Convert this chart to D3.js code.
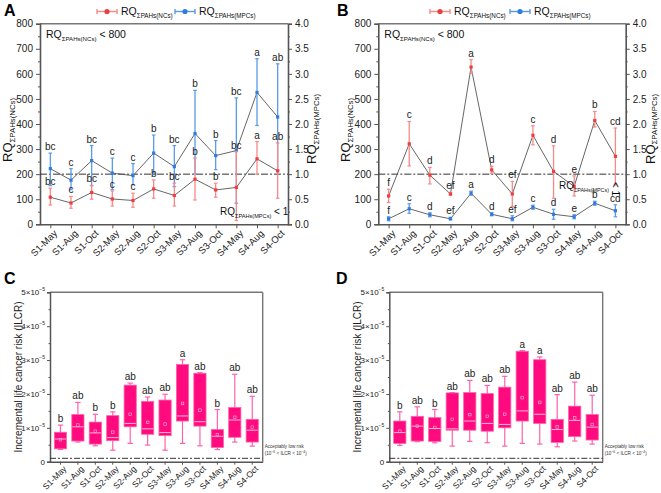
<!DOCTYPE html>
<html><head><meta charset="utf-8">
<script src="https://cdn.jsdelivr.net/npm/d3@7"></script>
<style>body{margin:0;background:#fff}svg{display:block;font-family:Arial,"Liberation Sans",sans-serif}</style>
</head><body><svg id="c" width="661" height="493"></svg>
<script>
const categories = ["S1-May","S1-Aug","S1-Oct","S2-May","S2-Aug","S2-Oct","S3-May","S3-Aug","S3-Oct","S4-May","S4-Aug","S4-Oct"];
const leftTicks = [0,100,200,300,400,500,600,700,800];
const rightTicks = [0,0.5,1,1.5,2,2.5,3,3.5,4];
const ilcrTicks = [0,1,2,3,4,5];

// Panel A
const ncsA_mean = [108,85,127,101,95,141,115,180,137,147,261,213];
const ncsA_low  = [77,64,100,73,68,104,73,97,108,15,200,104];
const ncsA_high = [144,111,155,133,124,177,164,264,164,290,330,324];
const ncsA_labels = ["bc","c","bc","c","c","b","bc","b","b","bc","a","ab"];
const mpcsA_mean = [1.11,0.88,1.27,1.02,0.97,1.42,1.15,1.81,1.37,1.47,2.63,2.14];
const mpcsA_low  = [0.77,0.69,0.77,0.69,0.79,1.02,0.75,1.0,1.09,0.42,1.97,1.08];
const mpcsA_high = [1.42,1.11,1.57,1.32,1.21,1.78,1.57,2.67,1.67,2.52,3.3,3.2];
const mpcsA_labels = ["bc","c","bc","c","c","b","bc","b","b","bc","a","ab"];

// Panel B
const ncsB_mean = [113,321,196,121,627,217,121,355,211,151,414,271];
const ncsB_low  = [87,233,161,116,601,204,71,317,104,113,388,157];
const ncsB_high = [140,410,227,127,657,231,171,393,313,193,450,384];
const ncsB_labels = ["f","c","d","ef","a","d","ef","c","d","e","b","cd"];
const mpcsB_mean = [0.11,0.31,0.19,0.11,0.62,0.2,0.11,0.34,0.2,0.15,0.42,0.27];
const mpcsB_low  = [0.07,0.22,0.15,0.09,0.58,0.17,0.07,0.3,0.1,0.11,0.38,0.15];
const mpcsB_high = [0.15,0.41,0.23,0.14,0.66,0.23,0.17,0.38,0.3,0.19,0.46,0.39];
const mpcsB_labels = ["f","c","d","ef","a","d","ef","c","d","e","b","cd"];

// Panel C (ILCR, units of 1e-5)
const C_whiskerLow  = [0.36,0.58,0.47,0.34,0.54,0.49,0.34,0.54,0.47,0.36,0.58,0.46];
const C_q1          = [0.38,0.61,0.52,0.62,1.03,0.81,0.77,1.2,1.05,0.42,0.72,0.58];
const C_median      = [0.67,1.03,0.85,0.71,1.13,0.97,0.86,1.35,1.18,0.75,1.23,0.93];
const C_q3          = [0.87,1.39,1.17,1.36,2.26,1.78,1.82,2.87,2.61,0.95,1.6,1.25];
const C_whiskerHigh = [1.08,1.75,1.4,1.47,2.32,1.91,1.99,3.01,2.63,1.54,2.58,1.93];
const C_mean        = [0.65,1.08,0.9,0.87,1.4,1.16,1.11,1.72,1.52,0.8,1.31,1.02];
const C_labels = ["b","ab","b","b","ab","ab","ab","a","ab","b","ab","ab"];

// Panel D
const D_whiskerLow  = [0.48,0.59,0.56,0.46,0.6,0.56,0.46,0.54,0.52,0.44,0.61,0.52];
const D_q1          = [0.54,0.61,0.6,0.93,0.93,0.9,1.0,1.2,1.13,0.57,0.74,0.64];
const D_median      = [0.86,1.05,0.98,0.97,1.2,1.13,1.1,1.5,1.4,0.95,1.22,1.02];
const D_q3          = [1.2,1.34,1.3,2.03,2.04,2.01,2.2,3.26,3.01,1.25,1.64,1.39];
const D_whiskerHigh = [1.47,1.62,1.54,2.04,2.4,2.25,2.52,3.28,3.09,1.98,2.35,1.96];
const D_mean        = [0.9,1.05,1.01,1.25,1.39,1.34,1.4,1.89,1.75,1.03,1.29,1.1];
const D_labels = ["b","ab","b","ab","ab","ab","ab","a","a","ab","ab","ab"];

const RED = "#f03c3c", RED_ERR = "#f58a8a", BLUE = "#2f7be0", BLUE_ERR = "#5a9be8";
const AX = "#555", LINE = "#555";
const PINK = "#ff0a7f", PINK_W = "#ff62ab", PINK_M = "#ffb6d6";

const svg = d3.select("#c");

function rq(g, x, y, sub, size, rot, subScale = 0.6, dyScale = 0.28) {
  const t = g.append("text").attr("x", x).attr("y", y).attr("font-size", size).attr("fill", "#111");
  if (rot) t.attr("transform", `rotate(${rot},${x},${y})`);
  t.append("tspan").text("RQ");
  t.append("tspan").attr("font-size", size * subScale).attr("dy", size * dyScale).text(sub);
  return t;
}

function panelRQ(opt) {
  const g = svg.append("g");
  const x = d3.scalePoint().domain(categories).range([opt.x0, opt.x1]).padding(0.5);
  const yL = d3.scaleLinear().domain([0, 800]).range([opt.y1, opt.y0]);
  const yR = d3.scaleLinear().domain([0, 4]).range([opt.y1, opt.y0]);

  g.append("line").attr("x1", opt.x0).attr("x2", opt.x1).attr("y1", opt.y0).attr("y2", opt.y0).attr("stroke", "#777").attr("stroke-width", 1.6);
  const la = g.append("g").attr("transform", `translate(${opt.x0},0)`)
    .call(d3.axisLeft(yL).tickValues(leftTicks).tickSize(4).tickPadding(3));
  g.append("g").attr("transform", `translate(${opt.x0},0)`)
    .call(d3.axisLeft(yL).tickValues(d3.range(50, 800, 100)).tickSize(2).tickFormat("")).select(".domain").remove();
  const ra = g.append("g").attr("transform", `translate(${opt.x1},0)`)
    .call(d3.axisRight(yR).tickValues(rightTicks).tickSize(4).tickPadding(3).tickFormat(d3.format(".1f")));
  g.append("g").attr("transform", `translate(${opt.x1},0)`)
    .call(d3.axisRight(yR).tickValues(d3.range(0.25, 4, 0.5)).tickSize(2).tickFormat("")).select(".domain").remove();
  const ba = g.append("g").attr("transform", `translate(0,${opt.y1})`)
    .call(d3.axisBottom(x).tickSize(4).tickPadding(3).tickSizeOuter(0));
  ba.selectAll("text").attr("text-anchor", "end").attr("transform", "rotate(-45)").attr("dx", "-0.2em").attr("dy", "0.5em");
  [la, ra, ba].forEach(a => {
    a.selectAll("text").attr("font-size", 10).attr("fill", "#222").attr("font-family", "Arial, Liberation Sans, sans-serif");
    a.selectAll("line").attr("stroke", AX);
    a.select(".domain").attr("stroke", AX).attr("stroke-width", 1.6);
  });
  g.selectAll(".tick line").attr("stroke", AX);
  ba.selectAll("text").attr("font-size", 9.5);

  g.append("line").attr("x1", opt.x0).attr("x2", opt.x1).attr("y1", yL(200)).attr("y2", yL(200))
    .attr("stroke", "#333").attr("stroke-width", 1).attr("stroke-dasharray", "7,2,2,2");

  function series(mean, low, high, labels, scale, color, errc) {
    const line = d3.line().x((d, i) => x(categories[i])).y(d => scale(d));
    g.append("path").datum(mean).attr("d", line).attr("fill", "none").attr("stroke", LINE).attr("stroke-width", 0.9);
    categories.forEach((c, i) => {
      const cx = x(c);
      g.append("line").attr("x1", cx).attr("x2", cx).attr("y1", scale(low[i])).attr("y2", scale(high[i])).attr("stroke", errc).attr("stroke-width", 1.3);
      [low[i], high[i]].forEach(v => g.append("line").attr("x1", cx - 1.8).attr("x2", cx + 1.8).attr("y1", scale(v)).attr("y2", scale(v)).attr("stroke", errc).attr("stroke-width", 1.2));
      g.append("rect").attr("x", cx - 1.6).attr("y", scale(mean[i]) - 1.6).attr("width", 3.2).attr("height", 3.2).attr("fill", color);
      g.append("text").attr("x", cx).attr("y", scale(high[i]) - 3).attr("text-anchor", "middle").attr("font-size", 10).attr("fill", "#222").text(labels[i]);
    });
  }
  series(opt.mpcs_mean, opt.mpcs_low, opt.mpcs_high, opt.mpcs_labels, yR, BLUE, BLUE_ERR);
  series(opt.ncs_mean, opt.ncs_low, opt.ncs_high, opt.ncs_labels, yL, RED, RED_ERR);

  svg.append("text").attr("x", opt.lx).attr("y", 16).attr("font-size", 16).attr("font-weight", "bold").text(opt.letter);
  [[opt.leg[0], RED_ERR, RED, "ΣPAHs(NCs)"], [opt.leg[1], BLUE_ERR, BLUE, "ΣPAHs(MPCs)"]].forEach(([lx, ec, c, sub]) => {
    const ly = 11.5;
    g.append("line").attr("x1", lx).attr("x2", lx + 20).attr("y1", ly).attr("y2", ly).attr("stroke", ec).attr("stroke-width", 1.4);
    [lx, lx + 20].forEach(v => g.append("line").attr("x1", v).attr("x2", v).attr("y1", ly - 2.5).attr("y2", ly + 2.5).attr("stroke", ec).attr("stroke-width", 1.4));
    g.append("circle").attr("cx", lx + 10).attr("cy", ly).attr("r", 2.6).attr("fill", c);
    rq(g, lx + 24, 15, sub, 10.5);
  });
  rq(g, opt.x0 - 28, (opt.y0 + opt.y1) / 2 + 38, "ΣPAHs(NCs)", 13, -90, 0.6, 0.2);
  rq(g, opt.rtx, (opt.y0 + opt.y1) / 2 + 40, "ΣPAHs(MPCs)", 13, -90, 0.6, 0.2);
  const t = rq(g, opt.x0 + 6, 38, "ΣPAHs(NCs)", 10.5, 0, 0.58);
  t.append("tspan").attr("dy", -10.5 * 0.28).text(" < 800");
  opt.annot(g);
}

panelRQ({x0: 40, x1: 288, y0: 23.7, y1: 224.3, letter: "A", lx: 4, leg: [97, 175], rtx: 316,
  ncs_mean: ncsA_mean, ncs_low: ncsA_low, ncs_high: ncsA_high, ncs_labels: ncsA_labels,
  mpcs_mean: mpcsA_mean, mpcs_low: mpcsA_low, mpcs_high: mpcsA_high, mpcs_labels: mpcsA_labels,
  annot: g => { const t = rq(g, 220, 215, "ΣPAHs(MPCs)", 10, 0, 0.56); t.append("tspan").attr("dy", -10 * 0.28).text(" < 1"); }
});
panelRQ({x0: 378.3, x1: 625.7, y0: 23.7, y1: 224.3, letter: "B", lx: 337, leg: [430, 510], rtx: 654.5,
  ncs_mean: ncsB_mean, ncs_low: ncsB_low, ncs_high: ncsB_high, ncs_labels: ncsB_labels,
  mpcs_mean: mpcsB_mean, mpcs_low: mpcsB_low, mpcs_high: mpcsB_high, mpcs_labels: mpcsB_labels,
  annot: g => {
    rq(g, 559, 189, "ΣPAHs(MPCs)", 10, 0, 0.54);
    g.append("text").attr("x", 612).attr("y", 182).attr("font-size", 10).attr("transform", "rotate(90,612,182)").text("< 1");
  }
});

function panelBox(opt) {
  const g = svg.append("g");
  const x = d3.scaleBand().domain(categories).range([opt.x0, opt.x1]).paddingInner(0.3).paddingOuter(0.25);
  const y = d3.scaleLinear().domain([0, 5]).range([opt.y1, opt.y0]);
  g.append("line").attr("x1", opt.x0).attr("x2", opt.x1).attr("y1", opt.y0).attr("y2", opt.y0).attr("stroke", "#777").attr("stroke-width", 1.4);
  g.append("line").attr("x1", opt.x1).attr("x2", opt.x1).attr("y1", opt.y0).attr("y2", opt.y1).attr("stroke", "#777").attr("stroke-width", 1.4);
  const la = g.append("g").attr("transform", `translate(${opt.x0},0)`)
    .call(d3.axisLeft(y).tickValues(ilcrTicks).tickSize(3).tickPadding(2).tickFormat(""));
  g.append("g").attr("transform", `translate(${opt.x0},0)`)
    .call(d3.axisLeft(y).tickValues(d3.range(0.5, 5, 1)).tickSize(1.5).tickFormat("")).select(".domain").remove();
  la.selectAll(".tick").each(function(d) {
    const t = d3.select(this).append("text").attr("x", -5).attr("dy", "0.32em").attr("text-anchor", "end").attr("font-size", 8).attr("fill", "#222");
    if (d === 0) { t.text("0"); return; }
    t.append("tspan").text(d + "×10");
    t.append("tspan").attr("font-size", 5).attr("dy", -4).text("−5");
  });
  const ba = g.append("g").attr("transform", `translate(0,${opt.y1})`)
    .call(d3.axisBottom(x).tickSize(3).tickPadding(2).tickSizeOuter(0));
  ba.selectAll("text").attr("text-anchor", "end").attr("transform", "rotate(-45)").attr("dx", "-0.1em").attr("dy", "0.6em")
    .attr("font-size", 8.5).attr("fill", "#222").attr("font-family", "Arial, Liberation Sans, sans-serif");
  [la, ba].forEach(a => { a.select(".domain").attr("stroke", AX).attr("stroke-width", 1.5); });
  g.selectAll(".tick line").attr("stroke", AX);

  g.append("line").attr("x1", opt.x0).attr("x2", opt.x1).attr("y1", y(0.1)).attr("y2", y(0.1))
    .attr("stroke", "#333").attr("stroke-width", 1).attr("stroke-dasharray", "6,2,2,2");
  const at = g.append("text").attr("x", opt.x1 + 2).attr("y", y(0.1) - 10).attr("font-size", 4.6).attr("fill", "#333");
  at.append("tspan").text("Acceptably low risk");
  const at2 = g.append("text").attr("x", opt.x1 + 2).attr("y", y(0.1) - 3).attr("font-size", 4.6).attr("fill", "#333");
  at2.append("tspan").text("(10");
  at2.append("tspan").attr("font-size", 3.4).attr("dy", -2).text("−6");
  at2.append("tspan").attr("dy", 2).text(" < ILCR < 10");
  at2.append("tspan").attr("font-size", 3.4).attr("dy", -2).text("−4");
  at2.append("tspan").attr("dy", 2).text(")");

  const bw = x.bandwidth();
  categories.forEach((c, i) => {
    const cx = x(c) + bw / 2;
    g.append("line").attr("x1", cx).attr("x2", cx).attr("y1", y(opt.wl[i])).attr("y2", y(opt.wh[i])).attr("stroke", PINK_W).attr("stroke-width", 1.2);
    [opt.wl[i], opt.wh[i]].forEach(v => g.append("line").attr("x1", cx - bw * 0.22).attr("x2", cx + bw * 0.22).attr("y1", y(v)).attr("y2", y(v)).attr("stroke", PINK_W).attr("stroke-width", 1.2));
    g.append("rect").attr("x", x(c)).attr("y", y(opt.q3[i])).attr("width", bw).attr("height", y(opt.q1[i]) - y(opt.q3[i]))
      .attr("fill", PINK).attr("stroke", PINK_W).attr("stroke-width", 0.8);
    g.append("line").attr("x1", x(c) + 0.5).attr("x2", x(c) + bw - 0.5).attr("y1", y(opt.med[i])).attr("y2", y(opt.med[i])).attr("stroke", PINK_M).attr("stroke-width", 1);
    g.append("rect").attr("x", cx - 1.3).attr("y", y(opt.mean[i]) - 1.3).attr("width", 2.6).attr("height", 2.6).attr("fill", "none").attr("stroke", PINK_M).attr("stroke-width", 0.6);
    g.append("text").attr("x", cx).attr("y", y(opt.wh[i]) - 3).attr("text-anchor", "middle").attr("font-size", 10).attr("fill", "#222").text(opt.labels[i]);
  });

  svg.append("text").attr("x", opt.lx).attr("y", 284).attr("font-size", 16).attr("font-weight", "bold").text(opt.letter);
  const tx = opt.x0 - 28, ty = (opt.y0 + opt.y1) / 2;
  g.append("text").attr("x", tx).attr("y", ty).attr("text-anchor", "middle").attr("font-size", 10).attr("fill", "#222")
    .attr("transform", `rotate(-90,${tx},${ty})`).text("Incremental life cancer risk (ILCR)");
}

panelBox({x0: 50, x1: 262.7, y0: 292.3, y1: 461.7, letter: "C", lx: 4,
  wl: C_whiskerLow, q1: C_q1, med: C_median, q3: C_q3, wh: C_whiskerHigh, mean: C_mean, labels: C_labels});
panelBox({x0: 389.3, x1: 602.7, y0: 292.3, y1: 461.7, letter: "D", lx: 336,
  wl: D_whiskerLow, q1: D_q1, med: D_median, q3: D_q3, wh: D_whiskerHigh, mean: D_mean, labels: D_labels});
</script></body></html>
